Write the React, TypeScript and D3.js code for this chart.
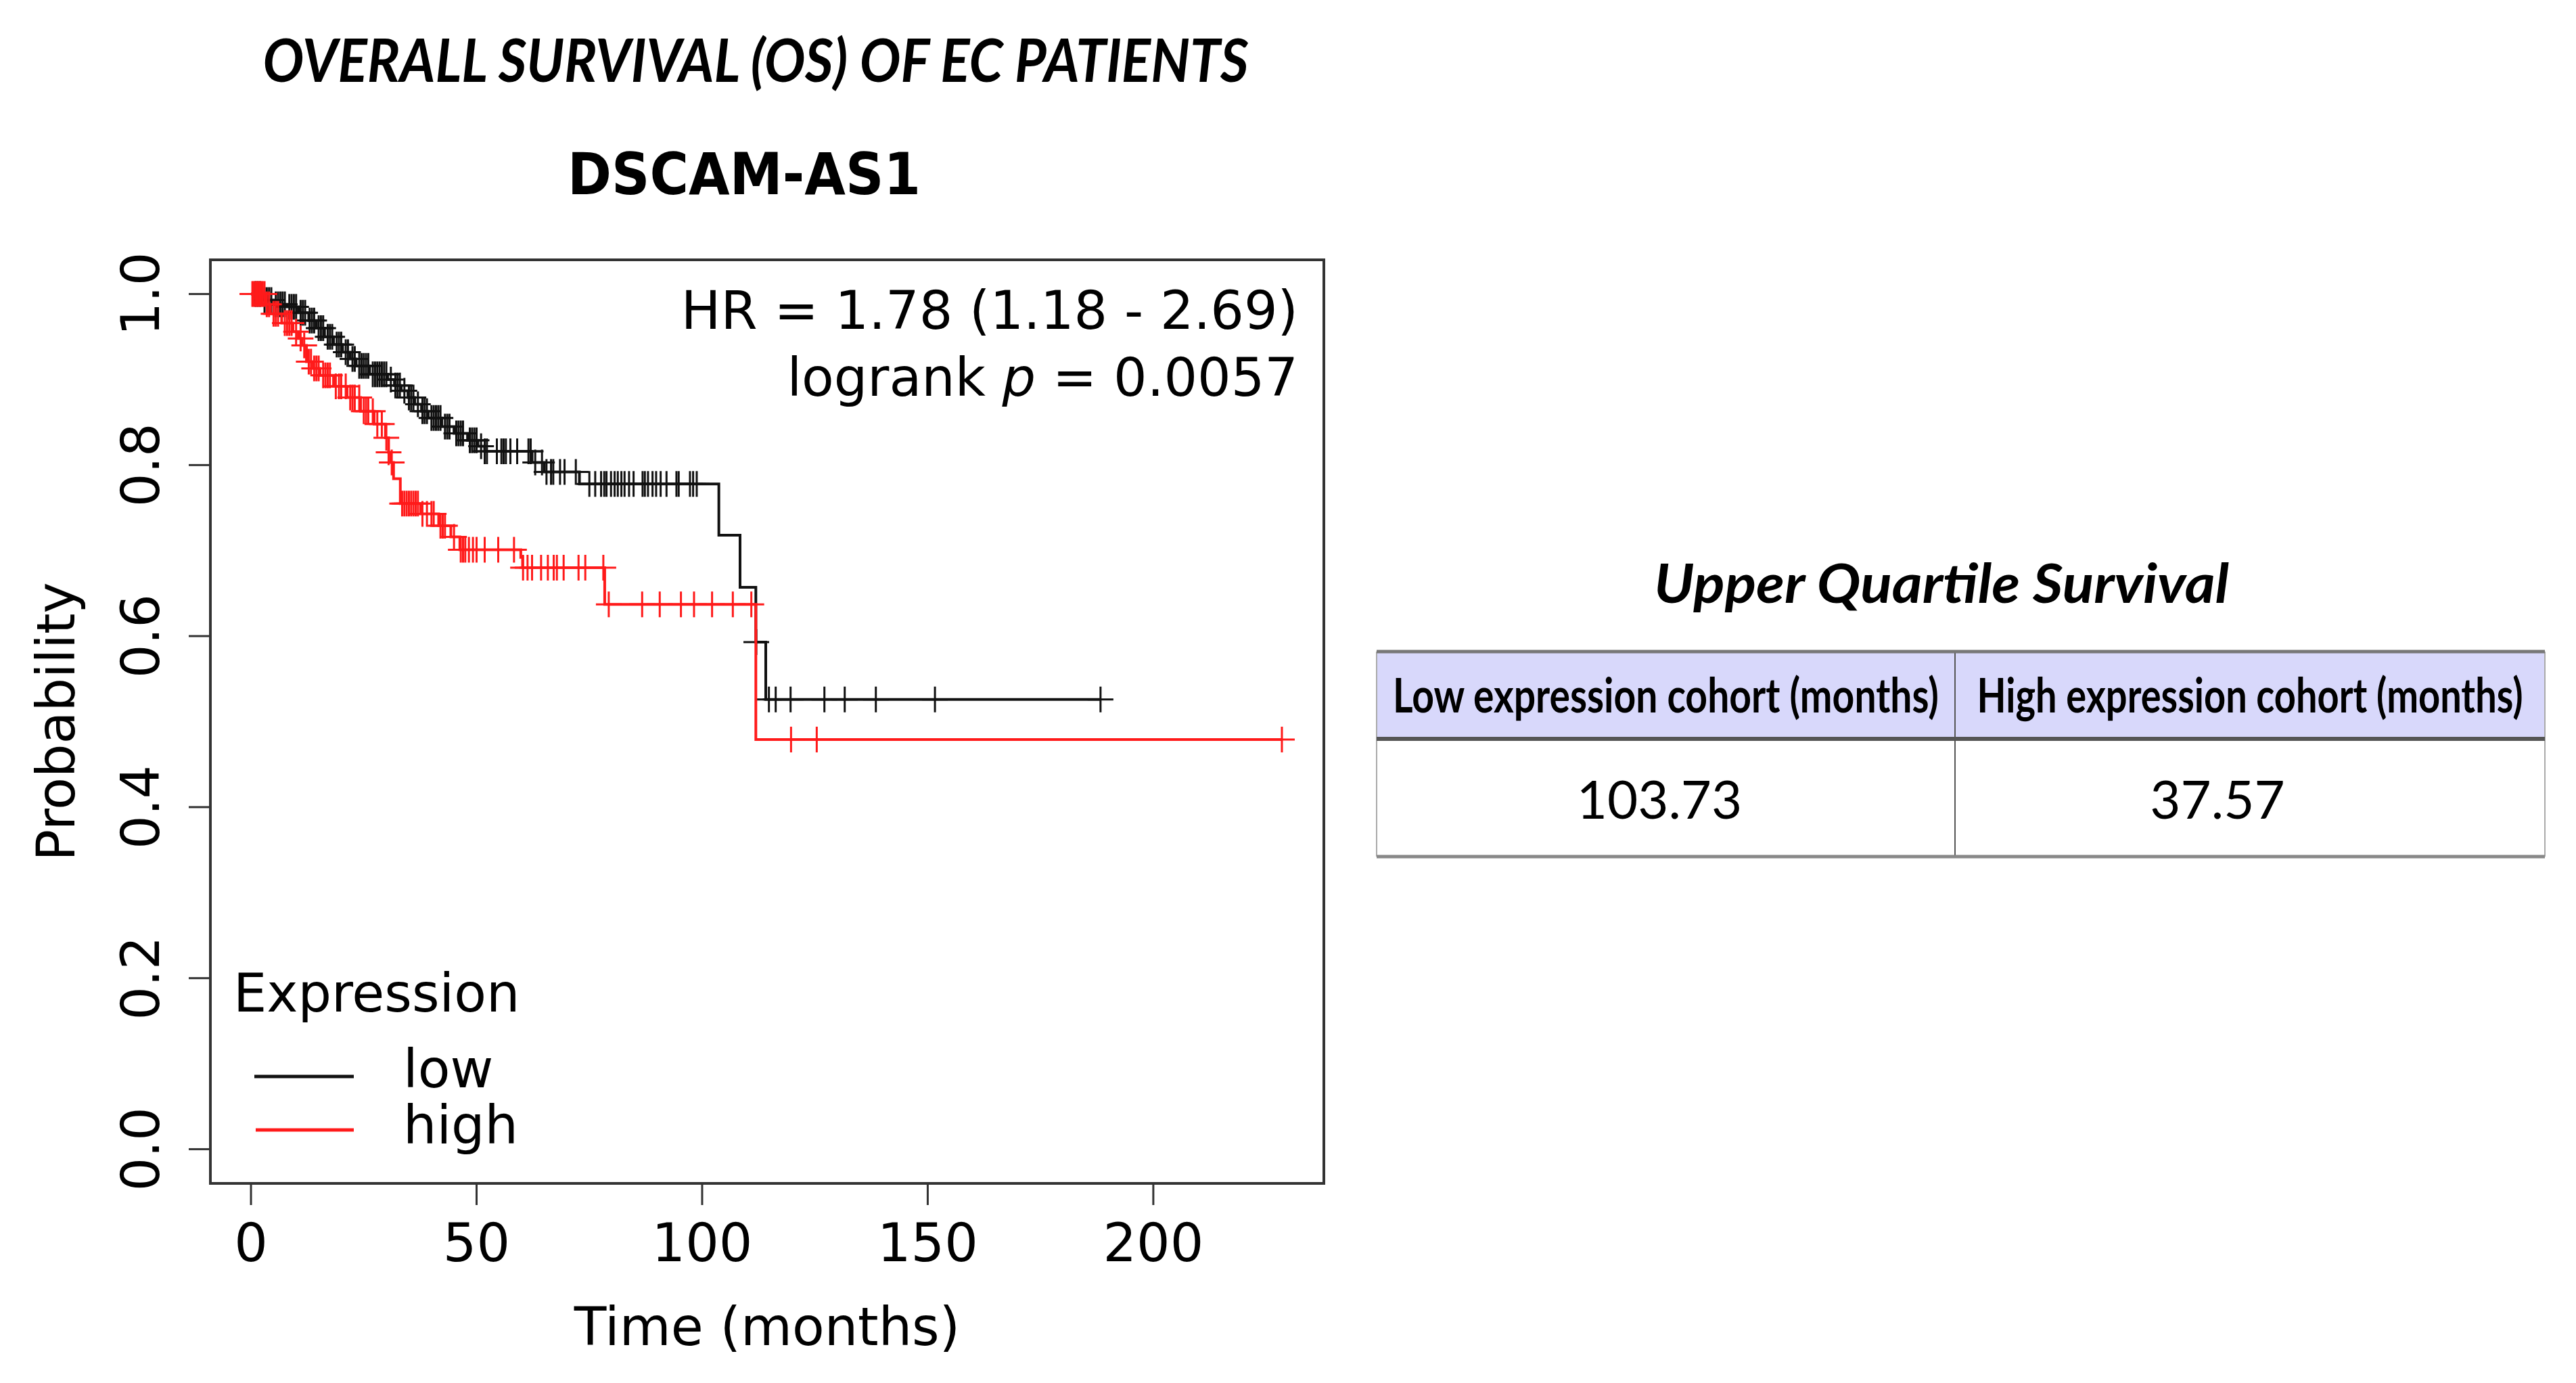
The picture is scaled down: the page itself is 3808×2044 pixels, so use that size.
import * as d3 from 'd3'

// survival steps: [time in months, survival after the event]
const LOW_EVENTS: [number, number][] = [
  [0, 1], [2.5, 0.993], [5, 0.988], [8, 0.985], [10.5, 0.978], [12.8, 0.969], [14.5, 0.96],
  [16.3, 0.95], [18.3, 0.941], [20.3, 0.932], [22, 0.924], [23.3, 0.916], [26.3, 0.906],
  [30.3, 0.9], [31.8, 0.893], [33.3, 0.887], [34.8, 0.879], [36.3, 0.871], [37.8, 0.863],
  [39.3, 0.855], [42.3, 0.845], [45, 0.837], [48, 0.829], [50.3, 0.822], [51.8, 0.816],
  [62.3, 0.803], [65, 0.792], [72.8, 0.778], [103.7, 0.718], [108.4, 0.657], [111.9, 0.593],
  [114.1, 0.526],
]
const LOW_CENSORED = [
  1, 1.5, 2, 3, 3.5, 4, 4.5, 5.5, 6, 6.5, 7, 7.5, 8.5, 9, 9.5, 10, 11, 11.5, 12, 13, 13.5, 14,
  15, 15.5, 16, 17, 17.5, 18, 19, 19.5, 20, 21, 21.5, 22.5, 23, 24, 24.5, 25, 25.5, 26, 27,
  27.5, 28, 28.5, 29, 29.5, 30, 31, 32, 32.5, 33, 34, 35, 35.5, 36, 37, 38, 38.5, 39, 40, 40.5,
  41, 41.5, 42, 43, 43.5, 44, 45.5, 46, 46.5, 47, 48.5, 49, 49.5, 50, 51, 51.8, 52.3, 54.5,
  55.5, 56, 56.5, 57.5, 59, 61.5, 62, 63, 64.5, 65.5, 66.5, 67, 68.5, 69.5, 72, 75, 76.3, 77.6,
  78.3, 78.8, 79.8, 80.6, 81.3, 82.1, 82.8, 83.8, 84.8, 86.8, 87.3, 88, 89, 89.8, 90.8, 92.1,
  94.3, 94.8, 97.3, 98, 98.8, 112, 114.8, 116.3, 119.6, 127.1, 131.6, 138.5, 151.6, 188.3,
]
const HIGH_EVENTS: [number, number][] = [
  [0, 1], [3.2, 0.988], [4.3, 0.977], [6.8, 0.966], [9.3, 0.956], [10.5, 0.948], [11.3, 0.94],
  [12.3, 0.921], [13.8, 0.913], [15.3, 0.905], [18.3, 0.892], [21.3, 0.879], [24.3, 0.863],
  [27.3, 0.848], [29.8, 0.832], [30.5, 0.815], [31, 0.803], [31.6, 0.784], [33.1, 0.755],
  [37.6, 0.743], [41.6, 0.729], [44.3, 0.716], [46.3, 0.701], [59.8, 0.692], [60.2, 0.68],
  [78.4, 0.637], [111.9, 0.479],
]
const HIGH_CENSORED = [
  0.3, 0.6, 1, 1.3, 1.6, 2, 2.3, 2.6, 3, 3.5, 4, 5, 5.5, 6, 7.5, 8, 8.5, 9, 10, 11, 11.8, 12.8,
  13.3, 14, 14.5, 15, 16, 16.5, 17, 17.5, 18.8, 19.5, 20, 21, 22, 22.5, 23, 24, 25, 25.5, 26,
  27, 28, 29, 30, 30.5, 31.2, 33.5, 34, 34.5, 35, 35.5, 36, 36.5, 37, 38, 39, 40, 40.5, 42,
  42.5, 43, 45, 46.5, 47, 47.5, 48.3, 49.2, 50, 51.8, 54.8, 58.3, 60.3, 61.3, 62.3, 64.3, 65.8,
  67.1, 67.8, 69.3, 72.6, 74.1, 78.1, 79.3, 86.7, 90.6, 95.3, 98.2, 102.2, 106.8, 110.9, 119.7,
  125.4, 228.5,
]
const X_TICKS = [0, 50, 100, 150, 200]
const Y_TICKS = [0, 0.2, 0.4, 0.6, 0.8, 1.0]
const TABLE_HEADERS = ['Low expression cohort (months)', 'High expression cohort (months)']
const TABLE_VALUES = ['103.73', '37.57']

const LOW_COLOR = '#111'
const HIGH_COLOR = '#ff1a1a'
const RFONT = '"DejaVu Sans", sans-serif'

function survAt(events: [number, number][], t: number) {
  let s = 1
  for (const [et, es] of events) if (et <= t) s = es
  return s
}

export default function App() {
  const x = d3.scaleLinear().domain([-9, 237.8]).range([311, 1957])
  const y = d3.scaleLinear().domain([-0.04, 1.04]).range([1749, 384])

  const line = d3.line<[number, number]>()
    .x(d => x(d[0]))
    .y(d => y(d[1]))
    .curve(d3.curveStepAfter)

  const curve = (events: [number, number][], censored: number[]) => {
    const end = Math.max(...censored)
    return line([...events, [end, survAt(events, end)]])
  }

  const plusMarks = (events: [number, number][], censored: number[], color: string) =>
    censored.map((t, i) => {
      const cx = x(t)
      const cy = y(survAt(events, t))
      return (
        <path key={i} d={`M${cx - 19},${cy}H${cx + 19}M${cx},${cy - 19}V${cy + 19}`}
          stroke={color} strokeWidth={3} fill="none" />
      )
    })

  const [x0, x1] = x.range()
  const [yb, yt] = y.range()

  // table geometry
  const tLeft = 2035, tMid = 2890, tRight = 3762
  const tTop = 963, tHead = 1092, tBottom = 1266

  return (
    <svg width={3808} height={2044} style={{ position: 'absolute', left: 0, top: 0, background: '#fff' }}>
      <rect width={3808} height={2044} fill="#fff" />

      {/* titles */}
      <text x={1117} y={121} textAnchor="middle" fontFamily="Lato, sans-serif" fontWeight={700}
        fontStyle="italic" fontSize={88} textLength={1457} lengthAdjust="spacingAndGlyphs">
        OVERALL SURVIVAL (OS) OF EC PATIENTS
      </text>
      <text x={1100} y={287} textAnchor="middle" fontFamily={RFONT} fontWeight={700}
        fontSize={86} textLength={522} lengthAdjust="spacingAndGlyphs">
        DSCAM-AS1
      </text>

      {/* curves */}
      <path d={curve(LOW_EVENTS, LOW_CENSORED) ?? ''} fill="none" stroke={LOW_COLOR} strokeWidth={4} />
      {plusMarks(LOW_EVENTS, LOW_CENSORED, LOW_COLOR)}
      <path d={curve(HIGH_EVENTS, HIGH_CENSORED) ?? ''} fill="none" stroke={HIGH_COLOR} strokeWidth={4} />
      {plusMarks(HIGH_EVENTS, HIGH_CENSORED, HIGH_COLOR)}

      {/* frame */}
      <rect x={x0} y={yt} width={x1 - x0} height={yb - yt} fill="none" stroke="#333" strokeWidth={4} />

      {/* x axis */}
      {X_TICKS.map(t => (
        <g key={t}>
          <line x1={x(t)} x2={x(t)} y1={yb} y2={yb + 32} stroke="#333" strokeWidth={3} />
          <text x={x(t)} y={1864} textAnchor="middle" fontFamily={RFONT} fontSize={78}>{t}</text>
        </g>
      ))}
      <text x={(x0 + x1) / 2} y={1988} textAnchor="middle" fontFamily={RFONT} fontSize={78}>
        Time (months)
      </text>

      {/* y axis */}
      {Y_TICKS.map(v => (
        <g key={v}>
          <line x1={x0 - 32} x2={x0} y1={y(v)} y2={y(v)} stroke="#333" strokeWidth={3} />
          <text transform={`translate(235,${y(v)}) rotate(-90)`} textAnchor="middle"
            fontFamily={RFONT} fontSize={78}>{v.toFixed(1)}</text>
        </g>
      ))}
      <text transform={`translate(110,${(yt + yb) / 2}) rotate(-90)`} textAnchor="middle"
        fontFamily={RFONT} fontSize={78}>Probability</text>

      {/* statistics */}
      <text x={1919} y={486} textAnchor="end" fontFamily={RFONT} fontSize={78}>
        HR = 1.78 (1.18 - 2.69)
      </text>
      <text x={1919} y={585} textAnchor="end" fontFamily={RFONT} fontSize={78}>
        logrank <tspan fontStyle="italic">p</tspan> = 0.0057
      </text>

      {/* legend */}
      <text x={345} y={1495} fontFamily={RFONT} fontSize={78}>Expression</text>
      <line x1={376} x2={523} y1={1591} y2={1591} stroke={LOW_COLOR} strokeWidth={5} />
      <text x={596} y={1607} fontFamily={RFONT} fontSize={78}>low</text>
      <line x1={378} x2={523} y1={1670} y2={1670} stroke={HIGH_COLOR} strokeWidth={5} />
      <text x={596} y={1690} fontFamily={RFONT} fontSize={78}>high</text>

      {/* upper quartile table */}
      <text x={2870} y={891} textAnchor="middle" fontFamily="Lato, sans-serif" fontWeight={700}
        fontStyle="italic" fontSize={80} textLength={850} lengthAdjust="spacingAndGlyphs">
        Upper Quartile Survival
      </text>
      <rect x={tLeft} y={tTop} width={tRight - tLeft} height={tHead - tTop} fill="#d8d8fb" />
      <line x1={tLeft} x2={tLeft} y1={tTop} y2={tBottom} stroke="#aaa" strokeWidth={2} />
      <line x1={tRight} x2={tRight} y1={tTop} y2={tBottom} stroke="#aaa" strokeWidth={2} />
      <line x1={tMid} x2={tMid} y1={tTop} y2={tBottom} stroke="#555" strokeWidth={2} />
      <line x1={tLeft} x2={tRight} y1={tTop} y2={tTop} stroke="#777" strokeWidth={5} />
      <line x1={tLeft} x2={tRight} y1={tHead} y2={tHead} stroke="#555" strokeWidth={6} />
      <line x1={tLeft} x2={tRight} y1={tBottom} y2={tBottom} stroke="#888" strokeWidth={5} />
      {TABLE_HEADERS.map((h, i) => {
        const cx = i === 0 ? (tLeft + tMid) / 2 : (tMid + tRight) / 2
        return (
          <text key={h} x={cx} y={1053} textAnchor="middle" fontFamily="Lato, sans-serif"
            fontWeight={700} fontSize={70} textLength={807} lengthAdjust="spacingAndGlyphs">
            {h}
          </text>
        )
      })}
      {TABLE_VALUES.map((v, i) => {
        const cx = i === 0 ? 2453 : 3278
        return (
          <text key={v} x={cx} y={1210} textAnchor="middle" fontFamily="Lato, sans-serif"
            fontSize={78}>
            {v}
          </text>
        )
      })}
    </svg>
  )
}
